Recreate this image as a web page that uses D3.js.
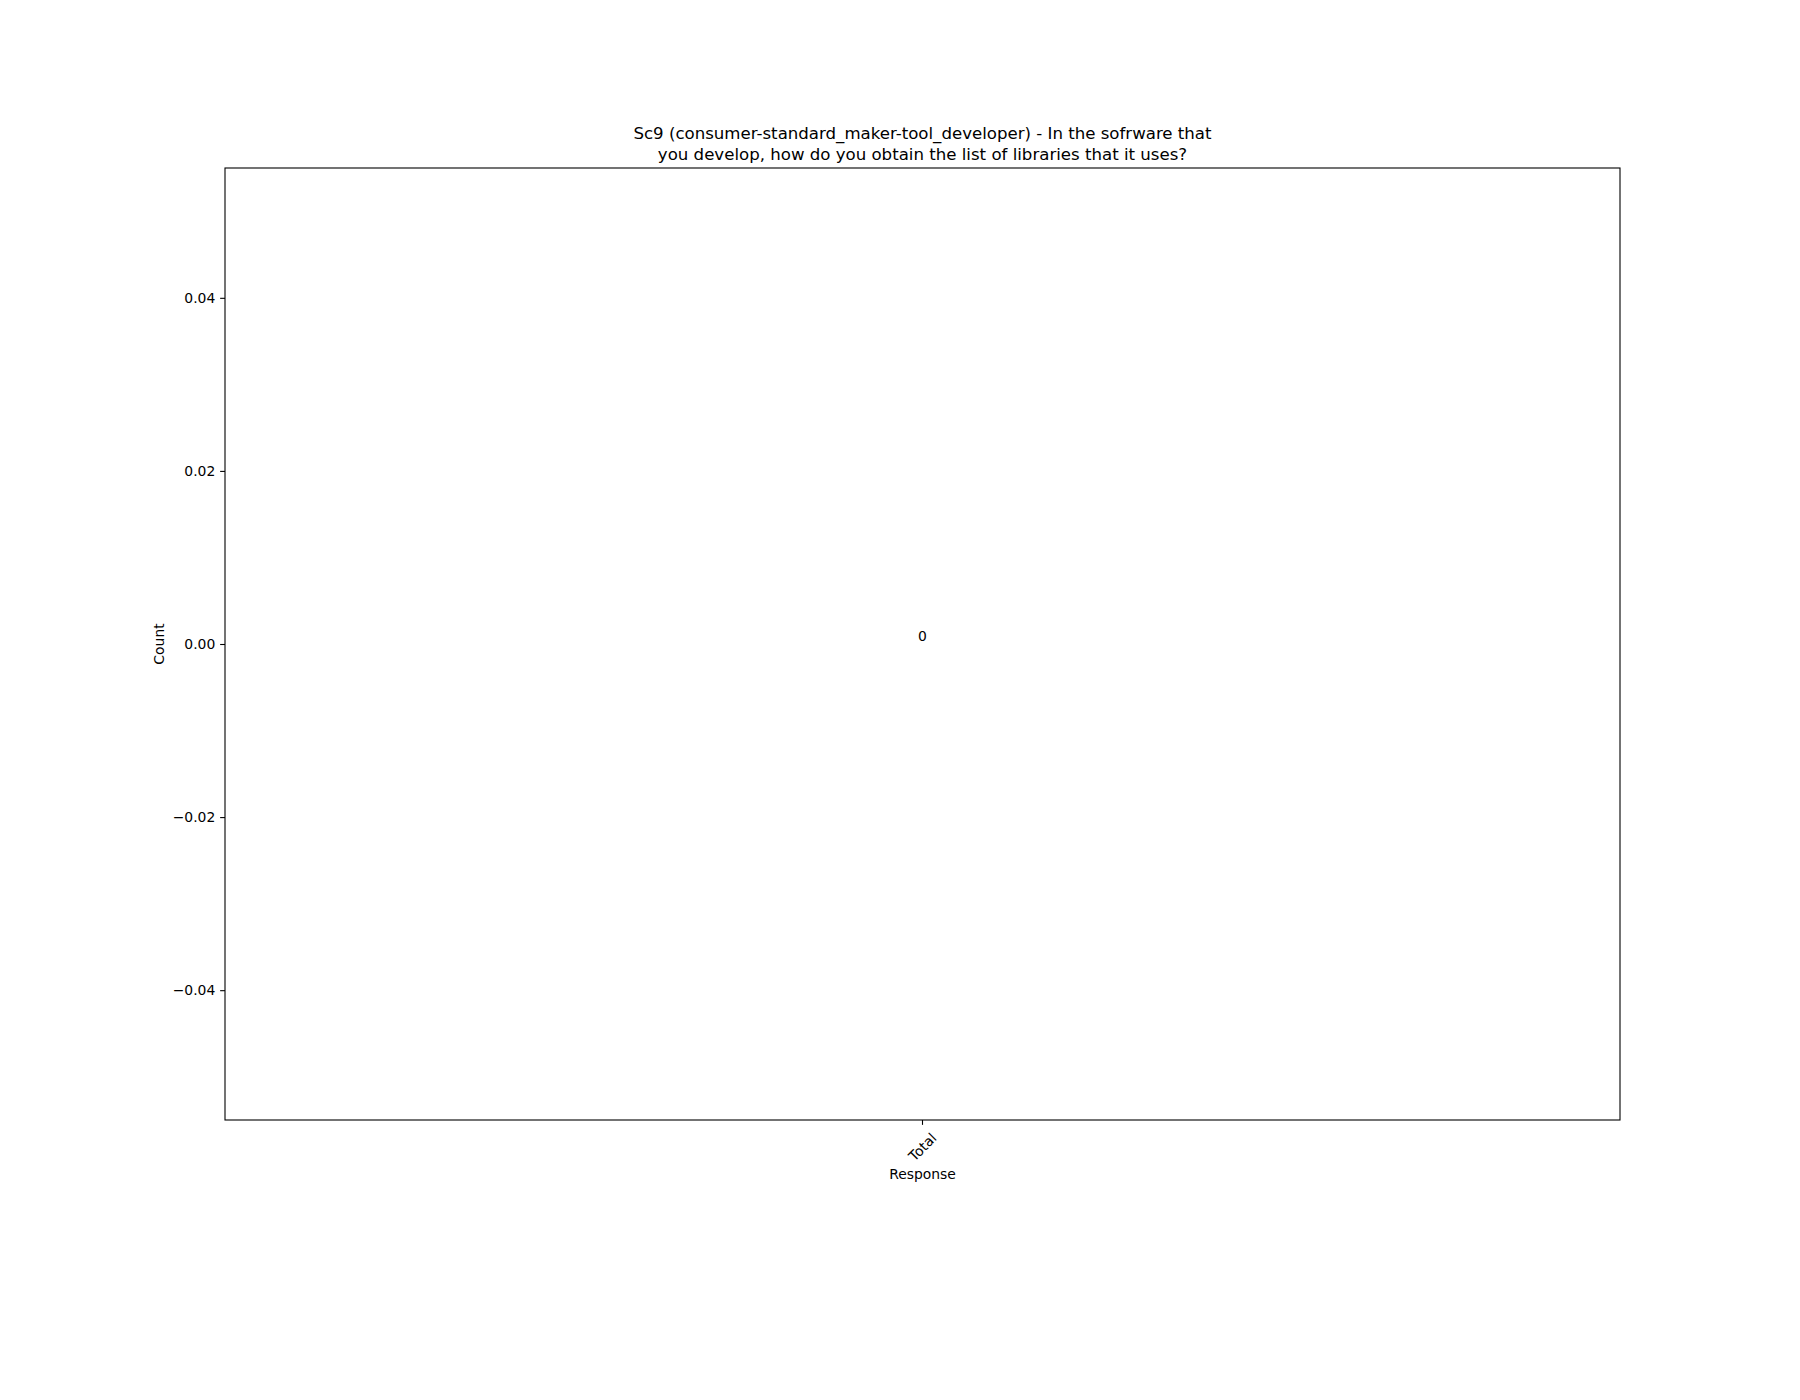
<!DOCTYPE html>
<html>
<head>
<meta charset="utf-8">
<script src="https://cdn.jsdelivr.net/npm/d3@7"></script>
<style>
  html, body { margin: 0; padding: 0; background: #fff; }
  svg { display: block; font-family: "DejaVu Sans", sans-serif; }
</style>
</head>
<body>
<svg id="chart" width="1800" height="1400"></svg>
<script>
const categories = ["Total"];
const counts = [0];
const yTicks = [-0.04, -0.02, 0.00, 0.02, 0.04];
const yDomain = [-0.055, 0.055];
const titleLines = [
  "Sc9 (consumer-standard_maker-tool_developer) - In the sofrware that",
  "you develop, how do you obtain the list of libraries that it uses?"
];
const xLabel = "Response";
const yLabel = "Count";

const svg = d3.select("#chart");
const W = 1800, H = 1400;
const m = { left: 225, right: 1620, top: 168, bottom: 1120 };

svg.append("rect").attr("width", W).attr("height", H).attr("fill", "#fff");

const x = d3.scaleBand().domain(categories).range([m.left, m.right]).paddingInner(0.2).paddingOuter(0.4);
const y = d3.scaleLinear().domain(yDomain).range([m.bottom, m.top]);

// bars
svg.append("g").selectAll("rect").data(categories).join("rect")
  .attr("x", d => x(d))
  .attr("width", x.bandwidth())
  .attr("y", (d, i) => Math.min(y(counts[i]), y(0)))
  .attr("height", (d, i) => Math.abs(y(counts[i]) - y(0)))
  .attr("fill", "#1f77b4");

// bar labels
svg.append("g").selectAll("text").data(categories).join("text")
  .attr("x", d => x(d) + x.bandwidth() / 2)
  .attr("y", (d, i) => y(counts[i]) - 3)
  .attr("text-anchor", "middle")
  .attr("font-size", "13.9px")
  .attr("fill", "#000")
  .text((d, i) => counts[i]);

const fmt = v => (v < 0 ? "\u2212" : "") + Math.abs(v).toFixed(2);

// y axis
const yAxis = d3.axisLeft(y).tickValues(yTicks).tickFormat(fmt).tickSizeOuter(0).tickSize(4.86).tickPadding(4.86);
const gy = svg.append("g").attr("transform", `translate(${m.left},0)`).call(yAxis);
gy.select(".domain").remove();
gy.selectAll("line").attr("stroke", "#000").attr("stroke-width", 1.1);
gy.selectAll("text").attr("font-size", "13.9px").attr("fill", "#000").attr("font-family", "DejaVu Sans");

// x axis
const xAxis = d3.axisBottom(x).tickSizeOuter(0).tickSize(4.86).tickPadding(4.86);
const gx = svg.append("g").attr("transform", `translate(0,${m.bottom})`).call(xAxis);
gx.select(".domain").remove();
gx.selectAll("line").attr("stroke", "#000").attr("stroke-width", 1.1);
gx.selectAll("text")
  .attr("font-size", "13.9px").attr("fill", "#000").attr("font-family", "DejaVu Sans")
  .attr("text-anchor", "middle")
  .attr("dy", null)
  .attr("y", null)
  .attr("transform", "translate(0,27) rotate(-45)")
  .attr("dominant-baseline", "central");

// frame
svg.append("rect")
  .attr("x", m.left).attr("y", m.top)
  .attr("width", m.right - m.left).attr("height", m.bottom - m.top)
  .attr("fill", "none").attr("stroke", "#000").attr("stroke-width", 1.1);

// axis labels
svg.append("text")
  .attr("x", (m.left + m.right) / 2).attr("y", 1179)
  .attr("text-anchor", "middle").attr("font-size", "13.9px").attr("fill", "#000")
  .text(xLabel);
svg.append("text")
  .attr("transform", `translate(164,${(m.top + m.bottom) / 2}) rotate(-90)`)
  .attr("text-anchor", "middle").attr("font-size", "13.9px").attr("fill", "#000")
  .text(yLabel);

// title
svg.append("g").selectAll("text").data(titleLines).join("text")
  .attr("x", (m.left + m.right) / 2)
  .attr("y", (d, i) => 139 + i * 20.5)
  .attr("text-anchor", "middle")
  .attr("font-size", "16.6px")
  .attr("fill", "#000")
  .text(d => d);
</script>
</body>
</html>
